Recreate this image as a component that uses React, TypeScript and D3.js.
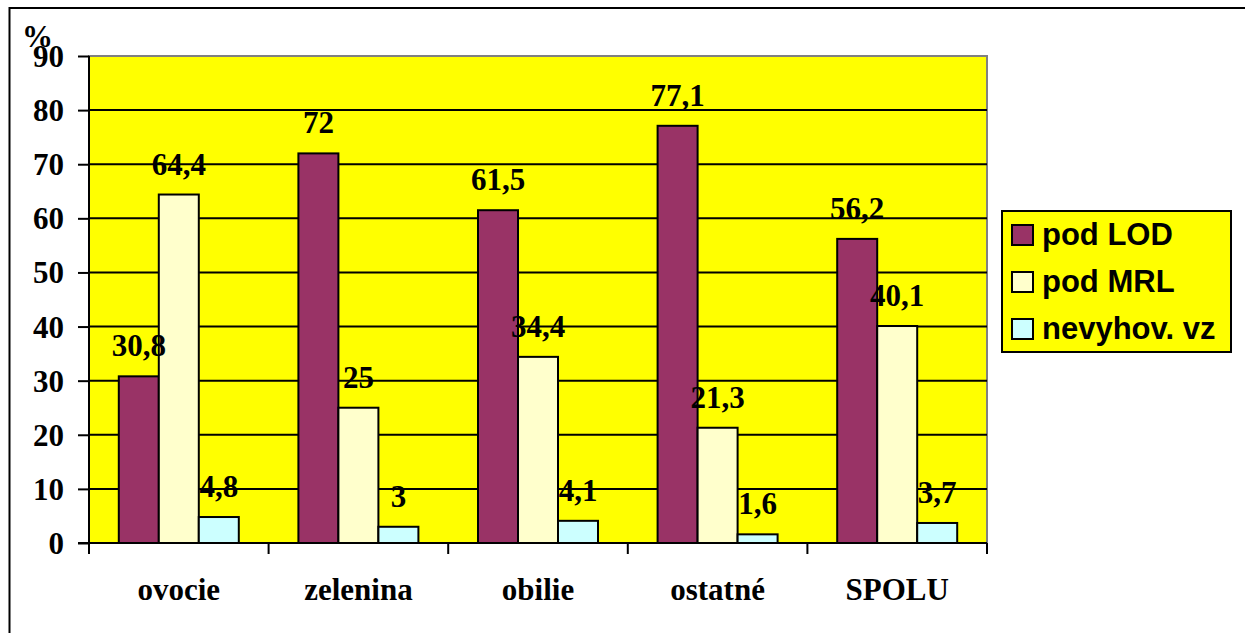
import React, { useEffect, useRef } from 'react';
import * as d3 from 'd3';

const categories = ['ovocie', 'zelenina', 'obilie', 'ostatné', 'SPOLU'];
const seriesNames = ['pod LOD', 'pod MRL', 'nevyhov. vz'];
const podLOD = [30.8, 72, 61.5, 77.1, 56.2];
const podMRL = [64.4, 25, 34.4, 21.3, 40.1];
const nevyhov = [4.8, 3, 4.1, 1.6, 3.7];
const yTicks = [0, 10, 20, 30, 40, 50, 60, 70, 80, 90];
const colors = ['#993366', '#FFFFCC', '#CCFFFF'];

const W = 1245;
const H = 633;

export default function App() {
    const ref = useRef<SVGSVGElement>(null);

    useEffect(() => {
        const svg = d3.select(ref.current);
        svg.selectAll('*').remove();

        const left = 89, right = 987, top = 56, bottom = 543;
        const serif = '"Liberation Serif", "Times New Roman", serif';
        const sans = '"Liberation Sans", Arial, sans-serif';

        // outer frame
        svg.append('rect')
            .attr('x', 9.5).attr('y', 8)
            .attr('width', 1260).attr('height', 660)
            .attr('fill', '#fff').attr('stroke', '#000').attr('stroke-width', 2);

        const x0 = d3.scaleBand<string>().domain(categories).range([left, right]);
        const x1 = d3.scaleBand<string>().domain(seriesNames)
            .range([0, x0.bandwidth()]).paddingOuter(0.745);
        const y = d3.scaleLinear().domain([0, 90]).range([bottom, top]);

        // plot area
        svg.append('rect')
            .attr('x', left).attr('y', top)
            .attr('width', right - left).attr('height', bottom - top)
            .attr('fill', '#FFFF00').attr('stroke', '#808080').attr('stroke-width', 2);

        // gridlines
        svg.append('g').selectAll('line')
            .data(yTicks.filter(t => t > 0 && t < 90))
            .join('line')
            .attr('x1', left).attr('x2', right)
            .attr('y1', d => y(d)).attr('y2', d => y(d))
            .attr('stroke', '#000').attr('stroke-width', 2);

        // bars
        const data = [podLOD, podMRL, nevyhov];
        const bars: { cat: string; s: number; v: number }[] = [];
        categories.forEach((c, i) => data.forEach((arr, s) => bars.push({ cat: c, s, v: arr[i] })));

        svg.append('g').selectAll('rect')
            .data(bars)
            .join('rect')
            .attr('x', d => (x0(d.cat) as number) + (x1(seriesNames[d.s]) as number))
            .attr('y', d => y(d.v))
            .attr('width', x1.bandwidth())
            .attr('height', d => y(0) - y(d.v))
            .attr('fill', d => colors[d.s])
            .attr('stroke', '#000').attr('stroke-width', 2);

        // axes
        const yAxis = d3.axisLeft(y).tickValues(yTicks).tickSize(11).tickFormat(d3.format('d'));
        const gy = svg.append('g').attr('transform', `translate(${left},0)`).call(yAxis);
        gy.select('.domain').attr('stroke', '#000').attr('stroke-width', 2).attr('d', `M0,${top}V${bottom}`);
        gy.selectAll('.tick line').attr('stroke', '#000').attr('stroke-width', 2);
        gy.selectAll('.tick text')
            .attr('x', -25).attr('dy', '0.34em')
            .attr('font-family', serif).attr('font-weight', 'bold').attr('font-size', 31).attr('fill', '#000');

        const bounds = categories.map(c => x0(c) as number).concat([right]);
        svg.append('line')
            .attr('x1', left - 11).attr('x2', right)
            .attr('y1', bottom).attr('y2', bottom)
            .attr('stroke', '#000').attr('stroke-width', 2);
        svg.append('g').selectAll('line')
            .data(bounds)
            .join('line')
            .attr('x1', d => d).attr('x2', d => d)
            .attr('y1', bottom).attr('y2', bottom + 11)
            .attr('stroke', '#000').attr('stroke-width', 2);

        svg.append('g').selectAll('text')
            .data(categories)
            .join('text')
            .attr('x', d => (x0(d) as number) + x0.bandwidth() / 2)
            .attr('y', 600)
            .attr('text-anchor', 'middle')
            .attr('font-family', serif).attr('font-weight', 'bold').attr('font-size', 31)
            .text(d => d);

        // value labels
        svg.append('g').selectAll('text')
            .data(bars)
            .join('text')
            .attr('x', d => (x0(d.cat) as number) + (x1(seriesNames[d.s]) as number) + x1.bandwidth() / 2)
            .attr('y', d => y(d.v) - 20)
            .attr('text-anchor', 'middle')
            .attr('font-family', serif).attr('font-weight', 'bold').attr('font-size', 31)
            .text(d => String(d.v).replace('.', ','));

        // unit label
        svg.append('text')
            .attr('x', 22).attr('y', 47)
            .attr('font-family', serif).attr('font-weight', 'bold').attr('font-size', 31)
            .text('%');

        // legend
        const lg = svg.append('g');
        lg.append('rect')
            .attr('x', 1002).attr('y', 211).attr('width', 229).attr('height', 141)
            .attr('fill', '#FFFF00').attr('stroke', '#000').attr('stroke-width', 2);
        seriesNames.forEach((name, i) => {
            const yy = 225 + i * 47;
            lg.append('rect')
                .attr('x', 1012).attr('y', yy).attr('width', 21).attr('height', 20)
                .attr('fill', colors[i]).attr('stroke', '#000').attr('stroke-width', 2);
            lg.append('text')
                .attr('x', 1042).attr('y', yy + 20)
                .attr('font-family', sans).attr('font-weight', 'bold').attr('font-size', 31)
                .text(name);
        });
    }, []);

    return (
        <svg ref={ref} width={W} height={H}
            style={{ position: 'absolute', left: 0, top: 0, background: '#fff' }} />
    );
}
